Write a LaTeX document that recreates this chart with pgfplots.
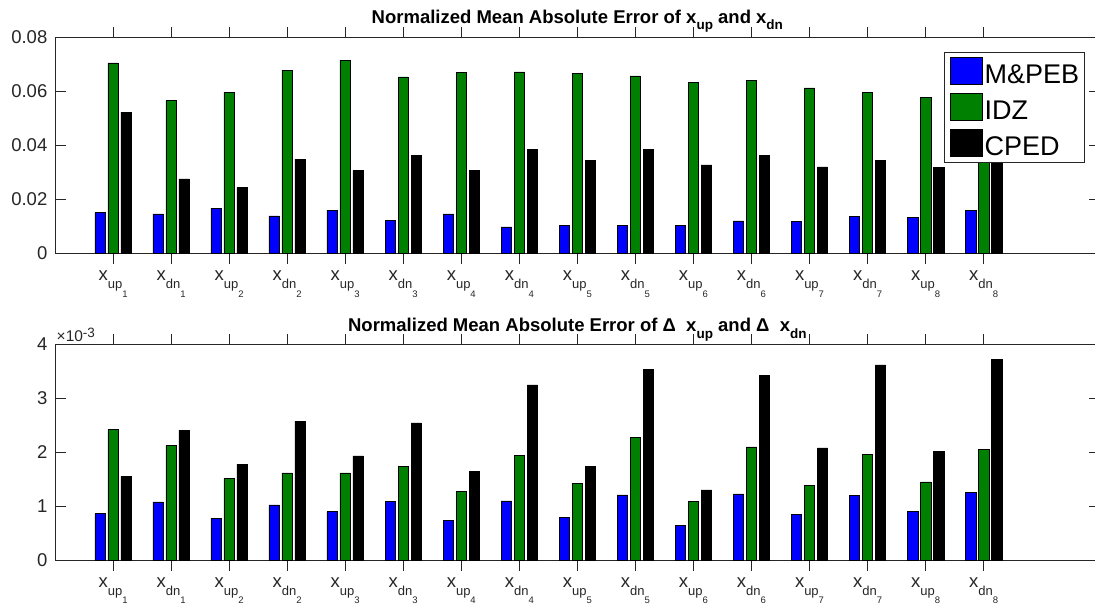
\documentclass[border=0pt]{standalone}
\usepackage{fontspec}
\setmainfont{Liberation Sans}
\usepackage{pgfplots}
\usepackage{pgfplotstable}
\pgfplotsset{compat=1.18}
\definecolor{axgray}{rgb}{0.15,0.15,0.15}
\definecolor{mgreen}{rgb}{0,0.5,0}
\newcommand{\xl}[2]{x\raisebox{-8pt}{\fontsize{13}{13}\selectfont #1\raisebox{-8.7pt}{\fontsize{9.5}{9.5}\selectfont #2}}}
\newcommand{\ts}[1]{\raisebox{-6.5pt}{\fontsize{13.5}{13.5}\selectfont #1}}

\pgfplotstableread{
x mpeb idz cped
1 0.0151 0.0706 0.0524
2 0.0147 0.0566 0.0276
3 0.0167 0.0598 0.0244
4 0.0139 0.0678 0.0350
5 0.0161 0.0716 0.0308
6 0.0122 0.0654 0.0364
7 0.0147 0.0671 0.0307
8 0.0099 0.0673 0.0385
9 0.0104 0.0668 0.0344
10 0.0103 0.0658 0.0387
11 0.0104 0.0634 0.0328
12 0.0121 0.0640 0.0364
13 0.0119 0.0613 0.0321
14 0.0137 0.0598 0.0345
15 0.0134 0.0577 0.0318
16 0.0160 0.0620 0.0400
}\topdata

\pgfplotstableread{
x mpeb idz cped
1 0.863 2.420 1.553
2 1.081 2.130 2.410
3 0.776 1.516 1.776
4 1.025 1.621 2.571
5 0.900 1.621 1.932
6 1.087 1.745 2.547
7 0.733 1.280 1.640
8 1.099 1.950 3.248
9 0.801 1.422 1.739
10 1.211 2.273 3.540
11 0.640 1.087 1.304
12 1.230 2.099 3.422
13 0.857 1.385 2.081
14 1.205 1.963 3.621
15 0.913 1.453 2.012
16 1.261 2.050 3.727
}\botdata

\pgfplotsset{
  myax/.style={
    scale only axis, width=1044.7pt, height=216pt,
    xmin=0, xmax=18, ymin=0,
    scaled y ticks=false, scaled x ticks=false,
    axis line style={axgray, line width=0.6pt},
    tick style={axgray, line width=0.6pt},
    major tick length=10.5pt, tick align=inside,
    xtick={1,...,16},
    xticklabels={\xl{up}{1},\xl{dn}{1},\xl{up}{2},\xl{dn}{2},\xl{up}{3},\xl{dn}{3},\xl{up}{4},\xl{dn}{4},
                 \xl{up}{5},\xl{dn}{5},\xl{up}{6},\xl{dn}{6},\xl{up}{7},\xl{dn}{7},\xl{up}{8},\xl{dn}{8}},
    ticklabel style={font=\fontsize{18.5}{20}\selectfont, text=axgray},
    xticklabel style={anchor=north, inner sep=0pt, yshift=-6.5pt},
    yticklabel style={anchor=east, inner sep=0pt, xshift=-7.5pt},
    ybar, bar width=10.4pt,
    title style={font=\bfseries\fontsize{18.5}{20}\selectfont, at={(0.5,1)}, anchor=base},
    clip=false,
  },
  mybar/.style={draw=black, line width=0.5pt, fill=#1,
    legend image code/.code={\draw[##1] (0pt,-0.7pt) rectangle (32pt,26.3pt);}},
}

\begin{document}
\begin{tikzpicture}
\begin{axis}[myax, at={(55pt,352.5pt)}, anchor=south west,
  ymax=0.08, ytick={0,0.02,0.04,0.06,0.08},
  yticklabels={0,0.02,0.04,0.06,0.08},
  title={Normalized Mean Absolute Error of x\ts{up} and x\ts{dn}},
  title style={yshift=8.4pt},
  legend style={at={(0.8512,0.9352)}, anchor=north west, draw=axgray, line width=0.6pt,
    fill=white, font=\fontsize{27}{28}\selectfont, inner xsep=5.5pt, inner ysep=5pt,
    row sep=8pt, column sep=2pt, cells={anchor=base west},
    nodes={inner sep=0pt}},
]
\addplot[mybar=blue, bar shift=-13pt] table[x=x, y=mpeb] {\topdata};
\addplot[mybar=mgreen, bar shift=0pt] table[x=x, y=idz] {\topdata};
\addplot[mybar=black, bar shift=13pt] table[x=x, y=cped] {\topdata};
\legend{M\&PEB, IDZ, CPED}
\end{axis}
\begin{axis}[myax, at={(55pt,45.7pt)}, anchor=south west,
  ymax=4, ytick={0,1,2,3,4}, yticklabels={0,1,2,3,4},
  title={Normalized Mean Absolute Error of Δ\ \ x\ts{up} and Δ\ \ x\ts{dn}},
  title style={yshift=6.6pt},
]
\addplot[mybar=blue, bar shift=-13pt] table[x=x, y=mpeb] {\botdata};
\addplot[mybar=mgreen, bar shift=0pt] table[x=x, y=idz] {\botdata};
\addplot[mybar=black, bar shift=13pt] table[x=x, y=cped] {\botdata};
\node[anchor=base west, inner sep=0pt, text=axgray, font=\fontsize{15.5}{16}\selectfont]
  at (rel axis cs:0,1) [xshift=1.5pt, yshift=2.6pt] {×10\raisebox{4pt}{\fontsize{13.5}{14}\selectfont -3}};
\end{axis}
\pgfresetboundingbox
\useasboundingbox (0,0) rectangle (1095pt,606pt);
\end{tikzpicture}
\end{document}
